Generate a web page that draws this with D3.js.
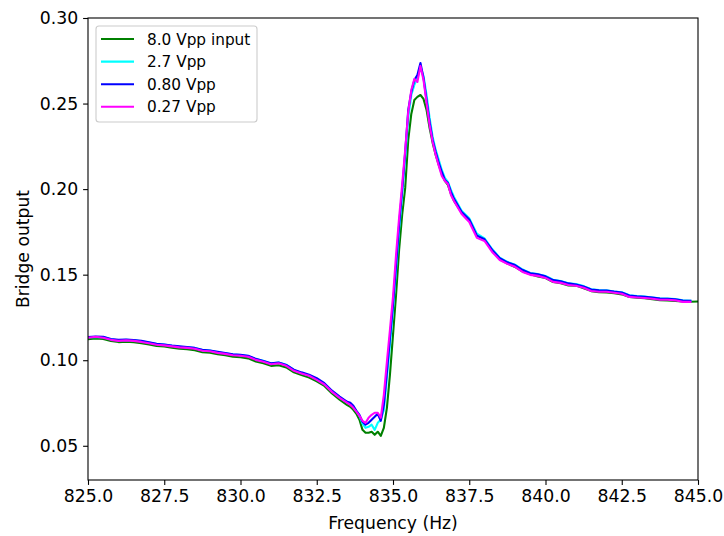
<!DOCTYPE html>
<html>
<head>
<meta charset="utf-8">
<script src="https://cdn.jsdelivr.net/npm/d3@7"></script>
<style>
  body { margin: 0; background: white; }
  svg { display: block; }
</style>
</head>
<body>
<script>
var width = 724;
var height = 536;
var margin = {top: 18, right: 26, bottom: 56, left: 88};

// frequency sweep (Hz): coarse away from resonance, finer across it
var freq = [
  825.00, 825.25, 825.50, 825.75, 826.00, 826.25, 826.50, 826.75, 827.00, 827.25,
  827.50, 827.75, 828.00, 828.25, 828.50, 828.75, 829.00, 829.25, 829.50, 829.75,
  830.00, 830.25, 830.50, 830.75, 831.00, 831.25, 831.50, 831.75, 832.00, 832.25,
  832.50, 832.75, 833.00, 833.25, 833.50,
  833.6, 833.7, 833.8, 833.9, 834.0, 834.1, 834.2, 834.3, 834.4, 834.5,
  834.6, 834.7, 834.8, 834.9, 835.0, 835.1, 835.2, 835.3, 835.4, 835.5,
  835.6, 835.7, 835.8, 835.9, 836.0, 836.1, 836.2, 836.3, 836.4, 836.5,
  836.6, 836.7, 836.8, 836.9, 837.0,
  837.25, 837.50, 837.75, 838.00, 838.25, 838.50, 838.75, 839.00, 839.25, 839.50,
  839.75, 840.00, 840.25, 840.50, 840.75, 841.00, 841.25, 841.50, 841.75, 842.00,
  842.25, 842.50, 842.75, 843.00, 843.25, 843.50, 843.75, 844.00, 844.25, 844.50,
  844.75, 845.00
];

var vpp8 = [
  0.1123, 0.1127, 0.1124, 0.1112, 0.1106, 0.1108, 0.1105, 0.1099, 0.1092, 0.1083,
  0.1080, 0.1073, 0.1067, 0.1064, 0.1058, 0.1047, 0.1044, 0.1035, 0.1029, 0.1021,
  0.1017, 0.1011, 0.0993, 0.0982, 0.0967, 0.0971, 0.0958, 0.0929, 0.0913, 0.0899,
  0.0877, 0.0850, 0.0806, 0.0770, 0.0738,
  0.0728, 0.0710, 0.0687, 0.0652, 0.0593, 0.0576, 0.0576, 0.0582, 0.0564, 0.0582,
  0.0558, 0.0605, 0.0722, 0.0915, 0.1148, 0.1382, 0.1645, 0.1849, 0.2007, 0.2287,
  0.2439, 0.2521, 0.2539, 0.2550, 0.2527, 0.2463, 0.2357, 0.2270, 0.2200, 0.2141,
  0.2089, 0.2048, 0.2025, 0.1972, 0.1931,
  0.1862, 0.1818, 0.1732, 0.1706, 0.1640, 0.1590, 0.1565, 0.1545, 0.1518, 0.1502,
  0.1490, 0.1480, 0.1457, 0.1450, 0.1437, 0.1436, 0.1420, 0.1404, 0.1398, 0.1396,
  0.1392, 0.1385, 0.1370, 0.1365, 0.1362, 0.1356, 0.1351, 0.1350, 0.1347, 0.1344,
  0.1342, 0.1343
];

var vpp27 = [
  0.1134, 0.1136, 0.1135, 0.1122, 0.1117, 0.1119, 0.1116, 0.1111, 0.1103, 0.1095,
  0.1091, 0.1085, 0.1079, 0.1076, 0.1071, 0.1059, 0.1056, 0.1047, 0.1041, 0.1033,
  0.1030, 0.1024, 0.1007, 0.0997, 0.0980, 0.0987, 0.0973, 0.0943, 0.0926, 0.0911,
  0.0890, 0.0862, 0.0818, 0.0783, 0.0752,
  0.0745, 0.0728, 0.0704, 0.0675, 0.0629, 0.0605, 0.0611, 0.0623, 0.0593, 0.0634,
  0.0652, 0.0710, 0.0897, 0.1090, 0.1294, 0.1528, 0.1762, 0.1966, 0.2182, 0.2416,
  0.2550, 0.2609, 0.2650, 0.2714, 0.2661, 0.2550, 0.2416, 0.2305, 0.2229, 0.2171,
  0.2112, 0.2065, 0.2042, 0.1995, 0.1954,
  0.1874, 0.1830, 0.1740, 0.1712, 0.1650, 0.1599, 0.1575, 0.1558, 0.1530, 0.1510,
  0.1503, 0.1492, 0.1470, 0.1463, 0.1450, 0.1445, 0.1433, 0.1415, 0.1410, 0.1409,
  0.1402, 0.1397, 0.1380, 0.1375, 0.1372, 0.1367, 0.1362, 0.1360, 0.1357, 0.1350,
  0.1348, null
];

var vpp080 = [
  0.1136, 0.1139, 0.1137, 0.1124, 0.1119, 0.1121, 0.1118, 0.1113, 0.1105, 0.1096,
  0.1092, 0.1086, 0.1081, 0.1077, 0.1072, 0.1061, 0.1057, 0.1049, 0.1042, 0.1034,
  0.1031, 0.1026, 0.1008, 0.0996, 0.0982, 0.0986, 0.0972, 0.0945, 0.0929, 0.0915,
  0.0895, 0.0866, 0.0822, 0.0787, 0.0757,
  0.0751, 0.0734, 0.0704, 0.0681, 0.0640, 0.0623, 0.0634, 0.0652, 0.0669, 0.0687,
  0.0646, 0.0739, 0.0932, 0.1131, 0.1324, 0.1557, 0.1791, 0.1995, 0.2217, 0.2463,
  0.2568, 0.2638, 0.2667, 0.2737, 0.2650, 0.2521, 0.2393, 0.2287, 0.2217, 0.2153,
  0.2100, 0.2054, 0.2036, 0.1984, 0.1943,
  0.1866, 0.1822, 0.1728, 0.1707, 0.1645, 0.1596, 0.1572, 0.1556, 0.1527, 0.1508,
  0.1502, 0.1490, 0.1468, 0.1461, 0.1449, 0.1443, 0.1431, 0.1413, 0.1409, 0.1407,
  0.1401, 0.1396, 0.1378, 0.1374, 0.1371, 0.1366, 0.1361, 0.1359, 0.1356, 0.1349,
  0.1347, null
];

var vpp027 = [
  0.1131, 0.1137, 0.1131, 0.1119, 0.1113, 0.1116, 0.1113, 0.1107, 0.1099, 0.1090,
  0.1087, 0.1081, 0.1075, 0.1072, 0.1067, 0.1055, 0.1052, 0.1043, 0.1037, 0.1029,
  0.1026, 0.1020, 0.1002, 0.0991, 0.0976, 0.0982, 0.0967, 0.0938, 0.0923, 0.0909,
  0.0885, 0.0858, 0.0815, 0.0780, 0.0751,
  0.0739, 0.0722, 0.0699, 0.0675, 0.0646, 0.0634, 0.0664, 0.0681, 0.0693, 0.0693,
  0.0664, 0.0798, 0.0991, 0.1178, 0.1370, 0.1616, 0.1832, 0.2025, 0.2229, 0.2451,
  0.2579, 0.2644, 0.2626, 0.2720, 0.2638, 0.2504, 0.2375, 0.2276, 0.2200, 0.2136,
  0.2077, 0.2048, 0.2030, 0.1966, 0.1931,
  0.1855, 0.1808, 0.1715, 0.1697, 0.1633, 0.1586, 0.1563, 0.1546, 0.1516, 0.1499,
  0.1493, 0.1481, 0.1458, 0.1452, 0.1440, 0.1435, 0.1423, 0.1405, 0.1400, 0.1400,
  0.1394, 0.1388, 0.1370, 0.1367, 0.1364, 0.1359, 0.1353, 0.1353, 0.1350, 0.1341,
  0.1341, null
];

var seriesNames = ["8.0 Vpp input", "2.7 Vpp", "0.80 Vpp", "0.27 Vpp"];
var seriesColors = ["#008000", "#00ffff", "#0000ff", "#ff00ff"];
var seriesValues = [vpp8, vpp27, vpp080, vpp027];

var xTicks = [825, 827.5, 830, 832.5, 835, 837.5, 840, 842.5, 845];
var yTicks = [0.05, 0.10, 0.15, 0.20, 0.25, 0.30];

var svg = d3.select('body')
    .append('svg')
    .attr('width', width)
    .attr('height', height)
    .style('font-family', 'DejaVu Sans, sans-serif');

var x = d3.scaleLinear()
    .domain([825, 845])
    .range([margin.left, width - margin.right]);

var y = d3.scaleLinear()
    .domain([0.03, 0.30])
    .range([height - margin.bottom, margin.top]);

// axes
var xAxis = svg.append('g')
    .attr('transform', `translate(0, ${height - margin.bottom})`)
    .call(d3.axisBottom(x).tickValues(xTicks).tickFormat(d3.format('.1f')).tickSize(4.9).tickPadding(4.9));

var yAxis = svg.append('g')
    .attr('transform', `translate(${margin.left}, 0)`)
    .call(d3.axisLeft(y).tickValues(yTicks).tickFormat(d3.format('.2f')).tickSize(4.9).tickPadding(4.9));

[xAxis, yAxis].forEach(function(a) {
    a.select('.domain').remove();
    a.selectAll('line').attr('stroke', 'black').attr('stroke-width', 1.1);
    a.selectAll('text')
        .attr('fill', 'black')
        .style('font-size', '17.3px')
        .style('font-family', 'DejaVu Sans, sans-serif');
});

// lines
svg.append('clipPath').attr('id', 'plotclip')
    .append('rect')
    .attr('x', margin.left)
    .attr('y', margin.top)
    .attr('width', width - margin.left - margin.right)
    .attr('height', height - margin.top - margin.bottom);

var line = d3.line()
    .defined(function(d) { return d[1] != null; })
    .x(function(d) { return x(d[0]); })
    .y(function(d) { return y(d[1]); });

seriesValues.forEach(function(vals, i) {
    var pts = freq.map(function(f, j) { return [f, vals[j]]; });
    svg.append('path')
        .datum(pts)
        .attr('clip-path', 'url(#plotclip)')
        .attr('fill', 'none')
        .attr('stroke', seriesColors[i])
        .attr('stroke-width', 2.1)
        .attr('stroke-linejoin', 'round')
        .attr('stroke-linecap', 'square')
        .attr('d', line);
});

// frame
svg.append('rect')
    .attr('x', margin.left)
    .attr('y', margin.top)
    .attr('width', width - margin.left - margin.right)
    .attr('height', height - margin.top - margin.bottom)
    .attr('fill', 'none')
    .attr('stroke', 'black')
    .attr('stroke-width', 1.1);

// axis labels
svg.append('text')
    .attr('x', (margin.left + width - margin.right) / 2)
    .attr('y', 529)
    .attr('text-anchor', 'middle')
    .attr('font-size', '17.2px')
    .text('Frequency (Hz)');

svg.append('text')
    .attr('transform', `translate(29, ${(margin.top + height - margin.bottom) / 2}) rotate(-90)`)
    .attr('text-anchor', 'middle')
    .attr('font-size', '17.2px')
    .text('Bridge output');

// legend
var legend = svg.append('g');

legend.append('rect')
    .attr('x', 96)
    .attr('y', 26)
    .attr('width', 161)
    .attr('height', 96)
    .attr('rx', 3)
    .attr('fill', 'white')
    .attr('fill-opacity', 0.8)
    .attr('stroke', '#cccccc')
    .attr('stroke-width', 1.1);

seriesNames.forEach(function(name, i) {
    var ly = 39 + i * 22.6;
    legend.append('line')
        .attr('x1', 101)
        .attr('x2', 134)
        .attr('y1', ly)
        .attr('y2', ly)
        .attr('stroke', seriesColors[i])
        .attr('stroke-width', 2.1);
    legend.append('text')
        .attr('x', 147)
        .attr('y', ly + 5.5)
        .attr('font-size', '15.3px')
        .text(name);
});
</script>
</body>
</html>
